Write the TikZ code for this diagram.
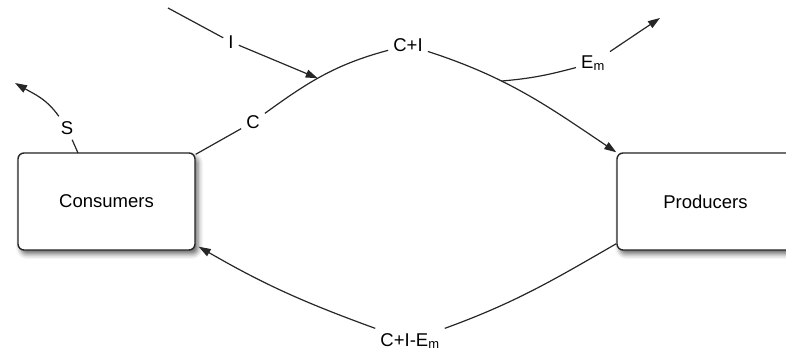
\documentclass[tikz,border=0pt]{standalone}
\usepackage{fontspec}
\setmainfont{Liberation Sans}
\usetikzlibrary{arrows.meta,shadows.blur}

\tikzset{
  box/.style={draw=black!85, line width=1.4pt, rounded corners=6pt, fill=white,
    minimum width=177pt, minimum height=97pt,
    blur shadow={shadow xshift=3pt, shadow yshift=-4pt, shadow blur radius=5pt, shadow opacity=60}},
  lbl/.style={inner sep=5pt},
  flow/.style={line width=1.2pt, black!85},
  tip/.style={flow, -{Triangle[length=12pt,width=8pt]}}
}

\begin{document}
\begin{tikzpicture}[x=1pt, y=1pt, font=\fontsize{18.5}{21}\selectfont]
  \useasboundingbox (0,0) rectangle (786,356);
  \clip (0,0) rectangle (786,356);
  % sectores
  \node[box] (cons) at (106.5,154.5) {Consumers};
  \node[box, minimum width=200pt] (prod) at (717,154.5) {Producers\hspace*{23pt}};
  % etiquetas
  \node[lbl] (lC)   at (253,234) {C};
  \node[lbl] (lCI)  at (408,311) {C+I};
  \node[lbl] (lI)   at (231,314) {I};
  \node[lbl] (lEm)  at (593,293) {E\textsubscript{m}};
  \node[lbl] (lS)   at (67,228)  {S};
  \node[lbl] (lCIE) at (410,15)  {C+I-E\textsubscript{m}};
  \coordinate (iStart) at (168,348);
  \coordinate (emTip) at (660,338);
  \coordinate (sTip) at (15,273);
  % flujo de arriba
  \draw[flow] ([yshift=-2pt]cons.north east) -- (lC);
  \draw[flow] (lC) to[out=36,in=195] coordinate[pos=0.45] (jI) (lCI);
  \draw[tip] (lCI) to[out=-18,in=146] coordinate[pos=0.36] (jE) (prod.north west);
  \draw[flow] (iStart) -- (lI);
  \draw[tip] (lI) -- (jI);
  \draw[flow] (jE) to[out=5,in=195] (lEm);
  \draw[tip] (lEm) -- (emTip);
  % ahorro
  \draw[flow] (78,203) -- (lS);
  \draw[tip] (lS) to[out=125,in=-30] (sTip);
  % flujo de abajo
  \draw[flow] ([yshift=7pt]prod.south west) to[out=210,in=20] (lCIE);
  \draw[tip] (lCIE) to[out=160,in=-30] ([xshift=3pt,yshift=4pt]cons.south east);
\end{tikzpicture}
\end{document}
